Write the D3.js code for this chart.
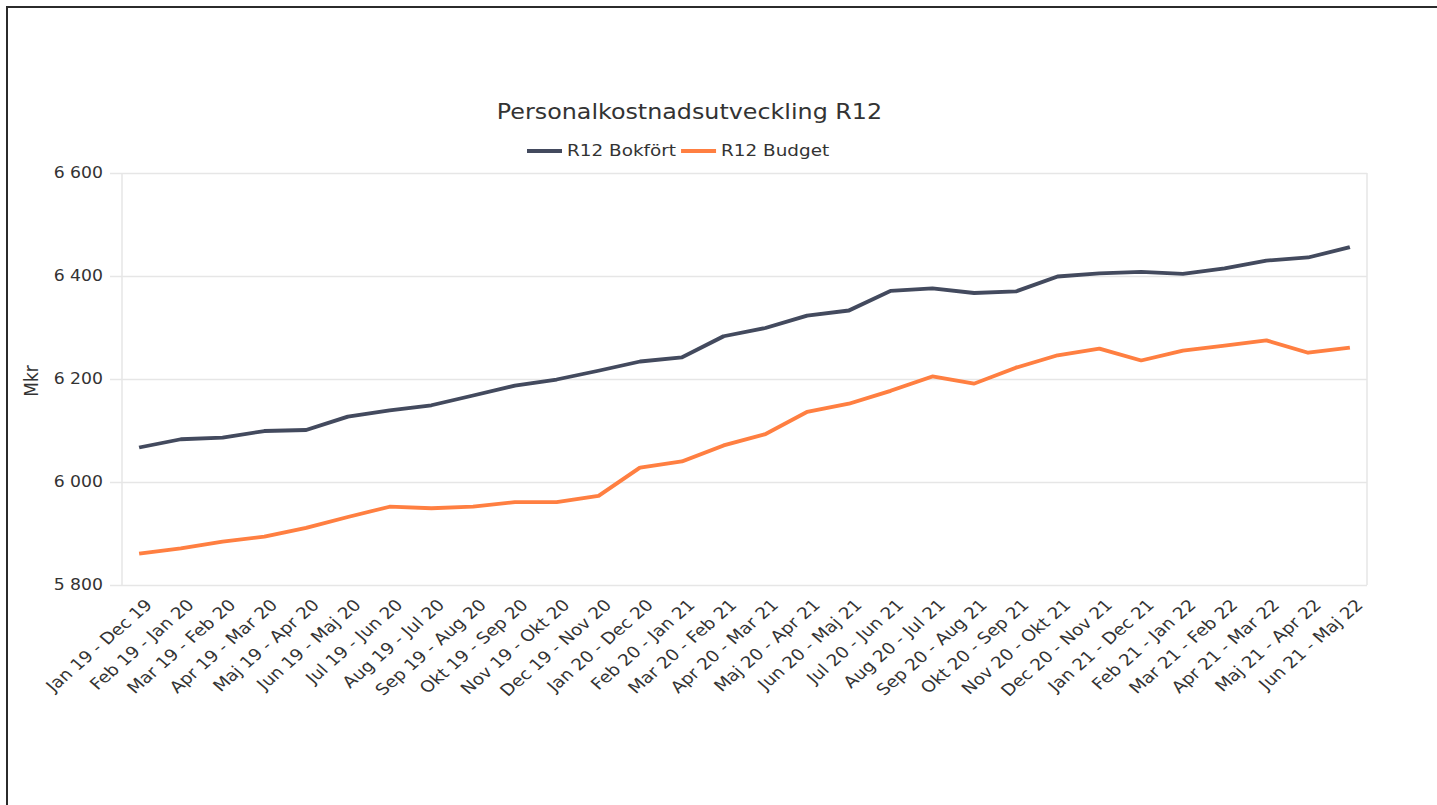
<!DOCTYPE html>
<html>
<head>
<meta charset="utf-8">
<script src="https://cdn.jsdelivr.net/npm/d3@7"></script>
<style>
  html, body { margin: 0; padding: 0; background: #fff; }
  svg text { font-family: "DejaVu Sans", Verdana, sans-serif; fill: #333; }
  .grid line { stroke: #e6e6e6; stroke-width: 1.5px; }
  .grid path { display: none; }
  .y.axis path { display: none; }
  .y.axis line { stroke: #e6e6e6; stroke-width: 1.5px; }
  .x.axis path, .x.axis line { display: none; }
  .line { fill: none; stroke-width: 3.8px; stroke-linejoin: round; }
</style>
</head>
<body>
<div id="chart"></div>
<script>
// chart data
var categories = [
  "Jan 19 - Dec 19", "Feb 19 - Jan 20", "Mar 19 - Feb 20", "Apr 19 - Mar 20",
  "Maj 19 - Apr 20", "Jun 19 - Maj 20", "Jul 19 - Jun 20", "Aug 19 - Jul 20",
  "Sep 19 - Aug 20", "Okt 19 - Sep 20", "Nov 19 - Okt 20", "Dec 19 - Nov 20",
  "Jan 20 - Dec 20", "Feb 20 - Jan 21", "Mar 20 - Feb 21", "Apr 20 - Mar 21",
  "Maj 20 - Apr 21", "Jun 20 - Maj 21", "Jul 20 - Jun 21", "Aug 20 - Jul 21",
  "Sep 20 - Aug 21", "Okt 20 - Sep 21", "Nov 20 - Okt 21", "Dec 20 - Nov 21",
  "Jan 21 - Dec 21", "Feb 21 - Jan 22", "Mar 21 - Feb 22", "Apr 21 - Mar 22",
  "Maj 21 - Apr 22", "Jun 21 - Maj 22"
];

var bokfort = [6067, 6083, 6086, 6099, 6101, 6127, 6139, 6149, 6168, 6187,
               6199, 6216, 6234, 6242, 6283, 6299, 6323, 6333, 6371, 6376,
               6367, 6370, 6399, 6405, 6408, 6404, 6415, 6430, 6436, 6456];

var budget = [5861, 5871, 5884, 5894, 5911, 5932, 5952, 5949, 5952, 5961,
              5961, 5973, 6028, 6040, 6071, 6093, 6136, 6152, 6177, 6205,
              6191, 6222, 6246, 6259, 6236, 6255, 6265, 6275, 6251, 6261];

var seriesNames = ["R12 Bokfört", "R12 Budget"];
var seriesColors = ["#434a5e", "#ff7f41"];
var yTicks = [5800, 6000, 6200, 6400, 6600];

var titleText = "Personalkostnadsutveckling R12";
var yTitle = "Mkr";

// the picture is a bit wider than tall, stretch x
var sx = 1.15;
var W = 1437, H = 805;

var plot = { left: 122 / sx, right: 1367 / sx, top: 173, bottom: 585 };
var plotW = plot.right - plot.left;

var se = d3.formatLocale({ decimal: ",", thousands: " ", grouping: [3], currency: ["", " kr"] });
var fmt = se.format(",d");

var xScale = d3.scalePoint()
  .domain(categories)
  .range([plot.left, plot.right])
  .padding(0.41);

var yScale = d3.scaleLinear()
  .domain([5800, 6600])
  .range([plot.bottom, plot.top]);

var svg = d3.select('#chart')
  .append('svg')
  .attr('width', W)
  .attr('height', H);

// outer frame
svg.append('rect')
  .attr('x', 7)
  .attr('y', 7)
  .attr('width', W + 20)
  .attr('height', H + 20)
  .attr('fill', 'none')
  .attr('stroke', '#2b2b2b')
  .attr('stroke-width', 2);

var g = svg.append('g')
  .attr('transform', 'scale(' + sx + ',1)');

// grid
g.append('g')
  .attr('class', 'grid')
  .attr('transform', 'translate(' + plot.left + ',0)')
  .call(d3.axisLeft(yScale).tickValues(yTicks).tickSize(-plotW).tickFormat(''));

// plot frame sides
[plot.left, plot.right].forEach(function(xx) {
  g.append('line')
    .attr('x1', xx).attr('x2', xx)
    .attr('y1', plot.top).attr('y2', plot.bottom)
    .attr('stroke', '#e6e6e6')
    .attr('stroke-width', 1.5 / sx);
});

// y axis
var yAxis = g.append('g')
  .attr('class', 'y axis')
  .attr('transform', 'translate(' + plot.left + ',0)')
  .call(d3.axisLeft(yScale).tickValues(yTicks).tickSize(12 / sx).tickPadding(7 / sx).tickFormat(fmt));

yAxis.selectAll('text')
  .style('font-size', '15px')
  .style('fill', '#333');

g.append('text')
  .attr('transform', 'translate(' + (38 / sx) + ',' + 381 + ') rotate(-90)')
  .attr('text-anchor', 'middle')
  .style('font-size', '17px')
  .text(yTitle);

// x axis
var xAxis = g.append('g')
  .attr('class', 'x axis')
  .attr('transform', 'translate(0,' + plot.bottom + ')')
  .call(d3.axisBottom(xScale).tickSize(0));

xAxis.selectAll('text')
  .attr('text-anchor', 'end')
  .attr('y', 0)
  .attr('dy', '0.35em')
  .attr('transform', 'translate(' + (9 / sx) + ',17) rotate(-45)')
  .style('font-size', '16px')
  .style('fill', '#333');

// lines
var line = d3.line()
  .x(function(d, i) { return xScale(categories[i]); })
  .y(function(d) { return yScale(d); });

[bokfort, budget].forEach(function(vals, i) {
  g.append('path')
    .datum(vals)
    .attr('class', 'line')
    .attr('stroke', seriesColors[i])
    .attr('d', line);
});

// title
g.append('text')
  .attr('x', 689.5 / sx)
  .attr('y', 119)
  .attr('text-anchor', 'middle')
  .style('font-size', '20.7px')
  .style('fill', '#333')
  .text(titleText);

// legend
var lx = 527 / sx;
seriesNames.forEach(function(name, i) {
  g.append('line')
    .attr('x1', lx).attr('x2', lx + 35 / sx)
    .attr('y1', 151).attr('y2', 151)
    .attr('stroke', seriesColors[i])
    .attr('stroke-width', 4);
  var t = g.append('text')
    .attr('x', lx + 40 / sx)
    .attr('y', 156.5)
    .style('font-size', '16px')
    .style('fill', '#333')
    .text(name);
  lx = lx + 40 / sx + t.node().getComputedTextLength() + 5 / sx;
});
</script>
</body>
</html>
